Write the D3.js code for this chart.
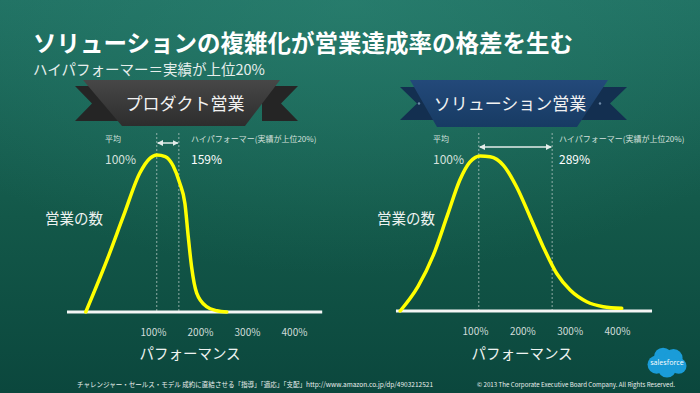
<!DOCTYPE html>
<html>
<head>
<meta charset="utf-8">
<script src="https://cdn.jsdelivr.net/npm/d3@7"></script>
<style>
  body { margin: 0; background: #0f4f45; }
  svg { display: block; font-family: "Noto Sans CJK JP", "Noto Sans", sans-serif; }
</style>
</head>
<body>
<svg width="700" height="393"></svg>
<script>
// values
const tickValues = [100, 200, 300, 400];
const tickLabels = ["100%", "200%", "300%", "400%"];
const panelTitles = ["プロダクト営業", "ソリューション営業"];

// performance (%) vs relative count of sales people
const productX = [-43, 2, 37, 72, 94, 108, 126, 143, 157, 168, 175, 182, 193, 214, 236, 257];
const productY = [0, 0.33, 0.61, 0.885, 0.98, 1, 0.99, 0.93, 0.82, 0.69, 0.48, 0.29, 0.12, 0.034, 0.008, 0];
const solutionX = [-58, -20, 12, 42, 68, 89, 111, 132, 160, 188, 216, 244, 273, 301, 336, 371, 410];
const solutionY = [0, 0.16, 0.36, 0.62, 0.845, 0.96, 1, 0.995, 0.94, 0.80, 0.61, 0.415, 0.24, 0.135, 0.06, 0.028, 0.017];

const averagePos = [108, 108];   // where the dashed "average" line sits
const highPos = [155, 263];      // where the dashed "high performer" line sits
const averageLabels = ["100%", "100%"];
const highLabels = ["159%", "289%"];

const svg = d3.select("svg"),
      width = +svg.attr("width"),
      height = +svg.attr("height");

const defs = svg.append("defs");

const bg = defs.append("linearGradient").attr("id", "bg").attr("x1", 0).attr("y1", 0).attr("x2", 0).attr("y2", 1);
bg.append("stop").attr("offset", "0%").attr("stop-color", "#207062");
bg.append("stop").attr("offset", "55%").attr("stop-color", "#135849");
bg.append("stop").attr("offset", "100%").attr("stop-color", "#0b473d");

const glow = defs.append("radialGradient").attr("id", "glow").attr("cx", "50%").attr("cy", "0%").attr("r", "70%");
glow.append("stop").attr("offset", "0%").attr("stop-color", "#2f8a78").attr("stop-opacity", 0.45);
glow.append("stop").attr("offset", "100%").attr("stop-color", "#2f8a78").attr("stop-opacity", 0);

const greyBand = defs.append("linearGradient").attr("id", "greyBand").attr("x1", 0).attr("y1", 0).attr("x2", 0).attr("y2", 1);
greyBand.append("stop").attr("offset", "0%").attr("stop-color", "#474747");
greyBand.append("stop").attr("offset", "100%").attr("stop-color", "#2d2d2d");

const blueBand = defs.append("linearGradient").attr("id", "blueBand").attr("x1", 0).attr("y1", 0).attr("x2", 0).attr("y2", 1);
blueBand.append("stop").attr("offset", "0%").attr("stop-color", "#23497a");
blueBand.append("stop").attr("offset", "100%").attr("stop-color", "#173b63");

defs.append("marker")
    .attr("id", "arrow")
    .attr("viewBox", "0 0 8 8")
    .attr("refX", 7).attr("refY", 4)
    .attr("markerWidth", 6).attr("markerHeight", 6)
    .attr("markerUnits", "userSpaceOnUse")
    .attr("orient", "auto-start-reverse")
  .append("path")
    .attr("d", "M0,0 L8,4 L0,8 z")
    .attr("fill", "#e4ecea");

svg.append("rect").attr("width", width).attr("height", height).attr("fill", "url(#bg)");
svg.append("rect").attr("width", width).attr("height", height).attr("fill", "url(#glow)");

// title
svg.append("text")
    .attr("x", 33).attr("y", 52)
    .attr("font-size", 23.5).attr("font-weight", "bold")
    .attr("fill", "#ffffff")
    .text("ソリューションの複雑化が営業達成率の格差を生む");

svg.append("text")
    .attr("x", 33).attr("y", 75)
    .attr("font-size", 14.5)
    .attr("fill", "#e6eeec")
    .text("ハイパフォーマー＝実績が上位20%");

// layout of the two panels
const panels = [
  { xs: productX, ys: productY, range: [153, 294], base: 312, peak: 155, axis: [-83, 460],
    arrowY: 143, avgText: 105, highText: 191, countX: 45, perfX: 190,
    band: [[83, 80], [280, 80], [245, 126], [122, 126]], tailL: [75, 130], tailR: [262, 298],
    tailY: [86, 121], fill: "url(#greyBand)", tail: "#252525", label: 185 },
  { xs: solutionX, ys: solutionY, range: [475, 617], base: 311, peak: 156, axis: [-67, 474],
    arrowY: 147, avgText: 433, highText: 559, countX: 377, perfX: 522,
    band: [[410, 80], [608, 80], [577, 127], [437, 127]], tailL: [400, 450], tailR: [570, 627],
    tailY: [87, 120], fill: "url(#blueBand)", tail: "#132f50", label: 510 }
];

panels.forEach(function(p, i) {
  const x = d3.scaleLinear().domain([100, 400]).range(p.range);
  const y = d3.scaleLinear().domain([0, 1]).range([p.base, p.peak]);
  const g = svg.append("g");

  // ribbon
  const mid = (p.tailY[0] + p.tailY[1]) / 2;
  g.append("polygon")
      .attr("points", [[p.tailL[0], p.tailY[0]], [p.tailL[1], p.tailY[0]], [p.tailL[1], p.tailY[1]],
                       [p.tailL[0], p.tailY[1]], [p.tailL[0] + 17, mid]].join(" "))
      .attr("fill", p.tail);
  g.append("polygon")
      .attr("points", [[p.tailR[1], p.tailY[0]], [p.tailR[0], p.tailY[0]], [p.tailR[0], p.tailY[1]],
                       [p.tailR[1], p.tailY[1]], [p.tailR[1] - 17, mid]].join(" "))
      .attr("fill", p.tail);
  g.append("polygon")
      .attr("points", p.band.join(" "))
      .attr("fill", p.fill);
  if (i === 1) {
    g.selectAll("circle.dot").data([419, 600]).enter().append("circle")
        .attr("cx", function(d) { return d; }).attr("cy", mid).attr("r", 1.2)
        .attr("fill", "#6f8aa8");
  }
  g.append("text")
      .attr("x", p.label).attr("y", mid + 6)
      .attr("text-anchor", "middle")
      .attr("font-size", 17)
      .attr("fill", "#f2f2f2")
      .text(panelTitles[i]);

  // dashed guides
  g.selectAll("line.guide").data([averagePos[i], highPos[i]]).enter().append("line")
      .attr("x1", function(d) { return x(d); }).attr("x2", function(d) { return x(d); })
      .attr("y1", 133).attr("y2", p.base)
      .attr("stroke", "#b9cbc6").attr("stroke-opacity", 0.75)
      .attr("stroke-width", 1).attr("stroke-dasharray", "2,2");

  g.append("line")
      .attr("x1", x(averagePos[i]) + 1).attr("x2", x(highPos[i]) - 1)
      .attr("y1", p.arrowY).attr("y2", p.arrowY)
      .attr("stroke", "#e4ecea").attr("stroke-width", 1.5)
      .attr("marker-start", "url(#arrow)").attr("marker-end", "url(#arrow)");

  // labels on guides
  g.append("text").attr("x", p.avgText).attr("y", 142)
      .attr("font-size", 8).attr("fill", "#d5e0dd").text("平均");
  g.append("text").attr("x", p.avgText).attr("y", 164)
      .attr("font-size", 12).attr("fill", "#d5e0dd").text(averageLabels[i]);
  g.append("text").attr("x", p.highText).attr("y", 142)
      .attr("font-size", 8).attr("fill", "#d5e0dd").text("ハイパフォーマー(実績が上位20%)");
  g.append("text").attr("x", p.highText).attr("y", 164)
      .attr("font-size", 12).attr("fill", "#ffffff").text(highLabels[i]);

  // axis line
  g.append("line")
      .attr("x1", x(p.axis[0])).attr("x2", x(p.axis[1]))
      .attr("y1", p.base).attr("y2", p.base)
      .attr("stroke", "#f4f6f5").attr("stroke-width", 3);

  // curve
  const pts = p.xs.map(function(v, k) { return [v, p.ys[k]]; });
  g.append("path")
      .datum(pts)
      .attr("fill", "none")
      .attr("stroke", "#ffff00")
      .attr("stroke-width", 3.5)
      .attr("stroke-linecap", "round")
      .attr("d", d3.line()
          .x(function(d) { return x(d[0]); })
          .y(function(d) { return y(d[1]); })
          .curve(d3.curveMonotoneX));

  // tick labels
  const axis = d3.axisBottom(x).tickValues(tickValues)
      .tickFormat(function(d, k) { return tickLabels[k]; })
      .tickSize(0).tickPadding(0);
  const ax = g.append("g").attr("transform", "translate(0," + (p.base + 17) + ")").call(axis);
  ax.select(".domain").remove();
  ax.selectAll("text")
      .attr("font-size", 10)
      .attr("font-family", "\"Noto Sans CJK JP\", \"Noto Sans\", sans-serif")
      .attr("fill", "#d0dcd9");

  g.append("text").attr("x", p.countX).attr("y", 224)
      .attr("font-size", 14.5).attr("fill", "#eef3f1").text("営業の数");
  g.append("text").attr("x", p.perfX).attr("y", 359)
      .attr("text-anchor", "middle")
      .attr("font-size", 14.5).attr("fill", "#eef3f1").text("パフォーマンス");
});

// footer
svg.append("text").attr("x", 77).attr("y", 387)
    .attr("font-size", 7).attr("fill", "#e8eeec")
    .attr("textLength", 356).attr("lengthAdjust", "spacingAndGlyphs")
    .text("チャレンジャー・セールス・モデル 成約に直結させる「指導」「適応」「支配」http://www.amazon.co.jp/dp/4903212521");
svg.append("text").attr("x", 675).attr("y", 387)
    .attr("text-anchor", "end")
    .attr("font-size", 6.5).attr("fill", "#e8eeec")
    .attr("textLength", 198).attr("lengthAdjust", "spacingAndGlyphs")
    .text("© 2013 The Corporate Executive Board Company. All Rights Reserved.");

// salesforce cloud
const cloud = svg.append("g").attr("transform", "translate(667,362) scale(1.3)");
[[-8, 2, 7], [-3, -4, 7], [5, -3, 7], [9, 3, 6], [0, 5, 7]].forEach(function(c) {
  cloud.append("circle").attr("cx", c[0]).attr("cy", c[1]).attr("r", c[2]).attr("fill", "#1a9cd8");
});
cloud.append("text").attr("x", 0).attr("y", 2.5)
    .attr("text-anchor", "middle").attr("font-size", 5.5)
    .attr("font-family", "\"Open Sans\", sans-serif")
    .attr("fill", "#ffffff").text("salesforce");
</script>
</body>
</html>
